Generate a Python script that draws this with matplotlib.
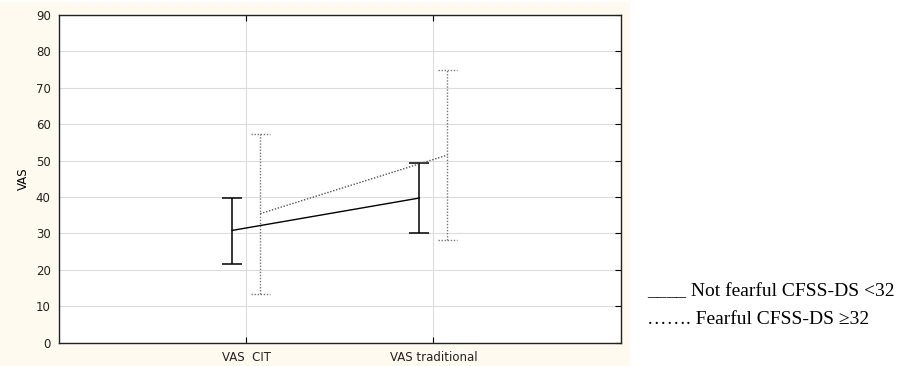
import matplotlib.pyplot as plt
import matplotlib.patches as patches
import numpy as np

# Données
categories = ["VAS  CIT", "VAS traditional"]
not_fearful_mean = [30.8, 39.7]
not_fearful_low = [21.7, 30.2]
not_fearful_high = [39.7, 49.3]
fearful_mean = [35.4, 51.5]
fearful_low = [13.2, 28.1]
fearful_high = [57.4, 74.9]
legend_labels = ["____ Not fearful CFSS-DS <32", "……. Fearful CFSS-DS \u226532"]

W, H = 908, 366
fig = plt.figure(figsize=(W / 100, H / 100), dpi=100)
fig.patch.set_facecolor("white")

# fond crème derrière le graphique
fig.patches.append(patches.Rectangle((0, 0), 630 / W, 364 / H, transform=fig.transFigure,
                                     facecolor="#fffaef", edgecolor="none", zorder=-10))

ax = fig.add_axes([59 / W, 1 - 342.5 / H, (620.5 - 59) / W, (342.5 - 15) / H])
ax.set_facecolor("white")

x = np.arange(1, len(categories) + 1)
dx = 0.075
dot = (0, (1, 1.2))

# non craintifs : trait plein noir
ax.plot(x - dx, not_fearful_mean, color="black", lw=1, zorder=3)
ax.errorbar(x - dx, not_fearful_mean,
            yerr=[np.array(not_fearful_mean) - np.array(not_fearful_low),
                  np.array(not_fearful_high) - np.array(not_fearful_mean)],
            fmt="none", ecolor="black", elinewidth=1.1, capsize=7, capthick=1.1, zorder=3)

# craintifs : pointillés gris
ax.plot(x + dx, fearful_mean, color="#555555", lw=1, ls=dot, zorder=3)
ax.vlines(x + dx, fearful_low, fearful_high, color="#777777", lw=1, ls=dot, zorder=3)
ax.hlines(fearful_low, x + dx - 0.05, x + dx + 0.05, color="#777777", lw=1, ls=dot, zorder=3)
ax.hlines(fearful_high, x + dx - 0.05, x + dx + 0.05, color="#777777", lw=1, ls=dot, zorder=3)

ax.set_xlim(0, 3)
ax.set_ylim(0, 90)
ax.set_yticks(np.arange(0, 91, 10))
ax.set_xticks(x)
ax.set_xticklabels(categories)
ax.grid(True, color="#dcdcdc", lw=0.8)
ax.set_axisbelow(True)
ax.tick_params(direction="in", length=4, top=True, right=True, labelsize=8.5,
               labelcolor="#222222", pad=6)
ax.tick_params(axis="y", left=False)
ax.set_ylabel("VAS", fontsize=8.5, labelpad=4)
for s in ax.spines.values():
    s.set_linewidth(1)
    s.set_color("#222222")

# légende écrite en texte
fig.text(647 / W, 1 - 292 / H, legend_labels[0], family="Liberation Serif", fontsize=14,
         va="center", ha="left")
fig.text(647 / W, 1 - 320 / H, legend_labels[1], family="Liberation Serif", fontsize=14,
         va="center", ha="left")

fig.savefig("out.png", dpi=100, facecolor=fig.get_facecolor())
